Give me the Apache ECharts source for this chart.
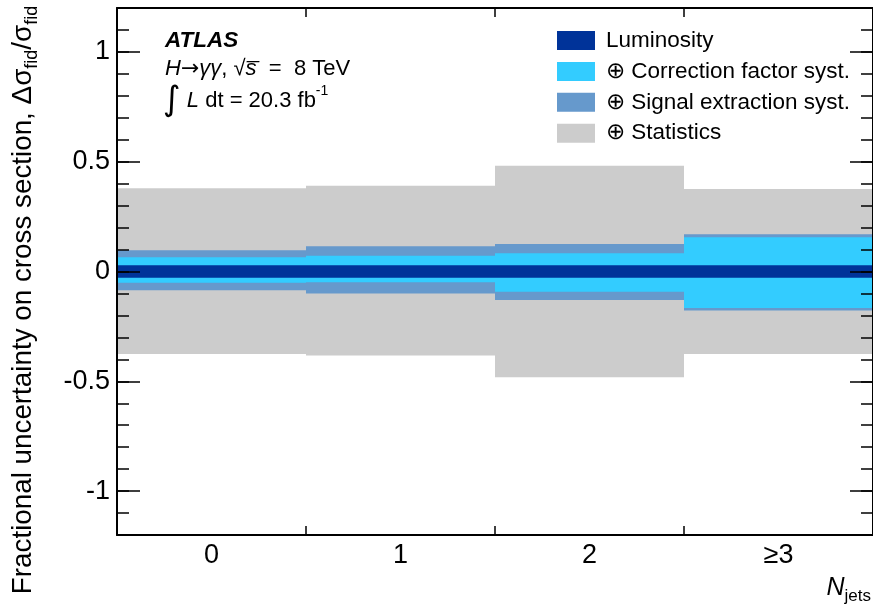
<!DOCTYPE html>
<html>
<head>
<meta charset="utf-8">
<script src="https://cdn.jsdelivr.net/npm/echarts@6/dist/echarts.min.js"></script>
<style>
  html, body { margin: 0; padding: 0; background: #ffffff; }
  #chart { width: 873px; height: 605px; }
</style>
</head>
<body>
<div id="chart"></div>
<script>
// Jet-multiplicity bins
const categories = ['0', '1', '2', '≥3'];

// Cumulative fractional uncertainties (upper / lower half-widths)
const lumiUp   = [0.028, 0.028, 0.028, 0.028];
const lumiDown = [0.028, 0.028, 0.028, 0.028];
const corrUp   = [0.065, 0.072, 0.083, 0.156];
const corrDown = [0.051, 0.049, 0.092, 0.166];
const sigUp    = [0.097, 0.115, 0.125, 0.170];
const sigDown  = [0.085, 0.100, 0.130, 0.178];
const statUp   = [0.379, 0.390, 0.482, 0.376];
const statDown = [0.376, 0.383, 0.482, 0.376];

// Y axis range and labelled ticks
const yMin = -1.2;
const yMax = 1.2;
const yMinorStep = 0.1;
const yTickLabels = ['-1', '-0.5', '0', '0.5', '1'];

const legendNames = ['Luminosity', '⊕ Correction factor syst.', '⊕ Signal extraction syst.', '⊕ Statistics'];
const colors = { lumi: '#003399', corr: '#33ccff', sig: '#6699cc', stat: '#cccccc' };

const FONT = '"Liberation Sans", Arial, Helvetica, sans-serif';

// Tick positions every 0.1 for the category axes that carry the long ticks
const tickSteps = [];
for (let i = 0; i <= Math.round((yMax - yMin) / yMinorStep); i++) {
  tickSteps.push(String(Math.round((yMin + i * yMinorStep) * 10) / 10));
}
const isMajor = (idx, val) => yTickLabels.indexOf(val) >= 0;

function band(name, color, up, down, z) {
  return {
    type: 'custom',
    name: name,
    xAxisIndex: 0,
    yAxisIndex: 0,
    z: z,
    silent: true,
    itemStyle: { color: color },
    encode: { x: 0, y: [1, 2] },
    data: categories.map((c, i) => [i, up[i], -down[i]]),
    renderItem: function (params, api) {
      const top = api.coord([api.value(0), api.value(1)]);
      const bot = api.coord([api.value(0), api.value(2)]);
      const w = api.size([1, 0])[0];
      return {
        type: 'rect',
        shape: { x: top[0] - w / 2, y: top[1], width: w, height: bot[1] - top[1] },
        style: { fill: color }
      };
    }
  };
}

const gridBox = { left: 117, right: -4, top: 8, bottom: 70 };
const axisLineStyle = { color: '#000', width: 2 };
const tickLineStyle = { color: '#000', width: 1.5 };

const chart = echarts.init(document.getElementById('chart'), null, { renderer: 'canvas' });

chart.setOption({
  animation: false,
  backgroundColor: '#ffffff',
  grid: [
    Object.assign({}, gridBox),
    Object.assign({}, gridBox)
  ],
  xAxis: [
    {
      type: 'category', gridIndex: 0, position: 'bottom', data: categories, z: 10,
      boundaryGap: true,
      axisLine: { show: true, onZero: false, lineStyle: axisLineStyle },
      axisTick: { show: true, inside: true, length: 9, lineStyle: tickLineStyle },
      axisLabel: { show: true, fontSize: 27, fontFamily: FONT, color: '#000', margin: 7 },
      splitLine: { show: false }
    },
    {
      type: 'category', gridIndex: 0, position: 'top', data: categories, z: 10,
      boundaryGap: true,
      axisLine: { show: true, onZero: false, lineStyle: axisLineStyle },
      axisTick: { show: true, inside: true, length: 9, lineStyle: tickLineStyle },
      axisLabel: { show: false },
      splitLine: { show: false }
    },
    {
      type: 'category', gridIndex: 1, data: categories, show: false,
      axisLine: { onZero: false }
    }
  ],
  yAxis: [
    {
      type: 'value', gridIndex: 0, position: 'left', min: yMin, max: yMax, interval: yMinorStep, z: 10,
      axisLine: { show: true, onZero: false, lineStyle: axisLineStyle },
      axisTick: { show: true, inside: true, length: 12, lineStyle: tickLineStyle },
      axisLabel: { show: false },
      splitLine: { show: false }
    },
    {
      type: 'value', gridIndex: 0, position: 'right', min: yMin, max: yMax, interval: yMinorStep, z: 10,
      axisLine: { show: true, onZero: false, lineStyle: axisLineStyle },
      axisTick: { show: true, inside: true, length: 12, lineStyle: tickLineStyle },
      axisLabel: { show: false },
      splitLine: { show: false }
    },
    {
      type: 'category', gridIndex: 1, position: 'left', data: tickSteps, boundaryGap: false, z: 11,
      axisLine: { show: false, onZero: false },
      axisTick: { show: true, inside: true, length: 23, interval: isMajor, lineStyle: tickLineStyle },
      axisLabel: { show: true, interval: isMajor, fontSize: 27, fontFamily: FONT, color: '#000', margin: 7 },
      splitLine: { show: false }
    },
    {
      type: 'category', gridIndex: 1, position: 'right', data: tickSteps, boundaryGap: false, z: 11,
      axisLine: { show: false, onZero: false },
      axisTick: { show: true, inside: true, length: 23, interval: isMajor, lineStyle: tickLineStyle },
      axisLabel: { show: false },
      splitLine: { show: false }
    }
  ],
  legend: {
    left: 557, top: 29, orient: 'vertical', padding: 0,
    itemWidth: 38, itemHeight: 19, itemGap: 7.9,
    icon: 'rect',
    selectedMode: false,
    data: legendNames,
    textStyle: { fontSize: 22.5, fontFamily: FONT, color: '#000', padding: [0, 0, 0, 6] }
  },
  series: [
    band(legendNames[3], colors.stat, statUp, statDown, 2),
    band(legendNames[2], colors.sig, sigUp, sigDown, 3),
    band(legendNames[1], colors.corr, corrUp, corrDown, 4),
    band(legendNames[0], colors.lumi, lumiUp, lumiDown, 5)
  ],
  graphic: [
    {
      type: 'text', x: 165, y: 41, z: 20,
      style: { text: 'ATLAS', font: 'italic bold 22.5px ' + FONT, fill: '#000', verticalAlign: 'middle' }
    },
    {
      type: 'text', x: 165, y: 69, z: 20,
      style: {
        text: '{i|H}{a|→}{i|γγ}, √{i|s̅}  =  8 TeV',
        fontSize: 22, fontFamily: FONT, fill: '#000', verticalAlign: 'middle',
        rich: {
          i: { fontStyle: 'italic', fontSize: 22, fontFamily: FONT },
          a: { fontSize: 22, fontFamily: '"DejaVu Sans", ' + FONT }
        }
      }
    },
    {
      type: 'text', x: 163, y: 101, z: 20,
      style: {
        text: '{int|∫} {i|L} dt = 20.3 fb{sup|-1}',
        fontSize: 22, fontFamily: FONT, fill: '#000', verticalAlign: 'middle',
        rich: {
          int: { fontSize: 34, fontFamily: '"DejaVu Sans", ' + FONT, lineHeight: 34 },
          i: { fontStyle: 'italic', fontSize: 22, fontFamily: FONT },
          sup: { fontSize: 14, fontFamily: FONT, verticalAlign: 'top', lineHeight: 30 }
        }
      }
    },
    {
      type: 'text', x: 23, y: 300, rotation: Math.PI / 2, z: 20,
      style: {
        text: 'Fractional uncertainty on cross section, Δσ{sub|fid}/σ{sub|fid}',
        fontSize: 27.8, fontFamily: FONT, fill: '#000', align: 'center', verticalAlign: 'middle',
        rich: {
          sub: { fontSize: 18, fontFamily: FONT, verticalAlign: 'bottom', lineHeight: 36 }
        }
      }
    },
    {
      type: 'text', x: 871, y: 588, z: 20,
      style: {
        text: '{n|N}{s|jets}',
        fontSize: 24, fontFamily: FONT, fill: '#000', align: 'right', verticalAlign: 'middle',
        rich: {
          n: { fontStyle: 'italic', fontSize: 25, fontFamily: FONT },
          s: { fontSize: 17, fontFamily: FONT, verticalAlign: 'bottom', lineHeight: 34 }
        }
      }
    }
  ]
});
</script>
</body>
</html>
